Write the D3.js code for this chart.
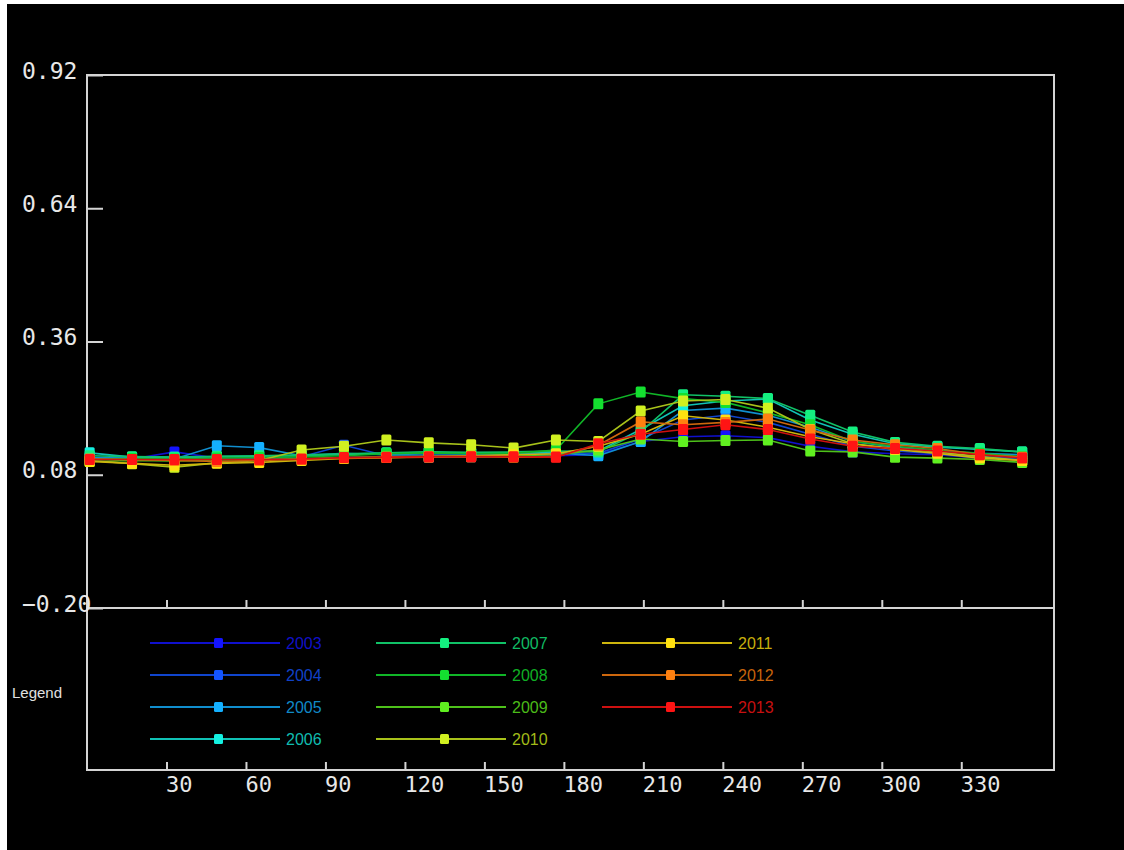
<!DOCTYPE html>
<html>
<head>
<meta charset="utf-8">
<script src="https://cdn.jsdelivr.net/npm/d3@7"></script>
<style>
  body { margin: 0; background: #fff; }
  svg { display: block; }
</style>
</head>
<body>
<div id="chart"></div>
<script>
// day of year of each 16-day composite
var days = [1, 17, 33, 49, 65, 81, 97, 113, 129, 145, 161, 177, 193, 209, 225, 241, 257, 273, 289, 305, 321, 337, 353]
var years = ["2003", "2004", "2005", "2006", "2007", "2008", "2009", "2010", "2011", "2012", "2013"]
var colors = ["#1414ff", "#1455ff", "#14b0ff", "#14f0e0", "#14f080", "#14e030", "#60f020", "#d0f020", "#ffe010", "#ff8010", "#ff1414"]

var v2003 = [0.112, 0.113, 0.128, 0.115, 0.114, 0.112, 0.116, 0.118, 0.117, 0.118, 0.119, 0.120, 0.122, 0.150, 0.160, 0.162, 0.158, 0.140, 0.128, 0.124, 0.122, 0.115, 0.112]
var v2004 = [0.114, 0.116, 0.118, 0.117, 0.115, 0.118, 0.142, 0.120, 0.121, 0.122, 0.123, 0.125, 0.125, 0.155, 0.195, 0.205, 0.190, 0.165, 0.140, 0.130, 0.124, 0.118, 0.114]
var v2005 = [0.116, 0.115, 0.113, 0.141, 0.137, 0.120, 0.125, 0.122, 0.124, 0.125, 0.124, 0.126, 0.120, 0.150, 0.215, 0.220, 0.205, 0.180, 0.150, 0.138, 0.130, 0.125, 0.122]
var v2006 = [0.126, 0.117, 0.116, 0.118, 0.119, 0.120, 0.122, 0.125, 0.127, 0.125, 0.126, 0.128, 0.130, 0.175, 0.225, 0.235, 0.239, 0.195, 0.165, 0.145, 0.138, 0.133, 0.128]
var v2007 = [0.120, 0.118, 0.117, 0.119, 0.120, 0.122, 0.124, 0.126, 0.128, 0.127, 0.128, 0.130, 0.128, 0.170, 0.248, 0.245, 0.240, 0.205, 0.170, 0.148, 0.140, 0.135, 0.128]
var v2008 = [0.112, 0.114, 0.113, 0.115, 0.116, 0.118, 0.120, 0.124, 0.126, 0.124, 0.125, 0.132, 0.229, 0.254, 0.240, 0.232, 0.210, 0.185, 0.150, 0.140, 0.132, 0.125, 0.118]
var v2009 = [0.108, 0.110, 0.109, 0.111, 0.112, 0.114, 0.116, 0.118, 0.119, 0.118, 0.120, 0.122, 0.132, 0.155, 0.150, 0.152, 0.153, 0.130, 0.128, 0.117, 0.115, 0.112, 0.106]
var v2010 = [0.110, 0.103, 0.096, 0.105, 0.110, 0.132, 0.140, 0.153, 0.147, 0.143, 0.136, 0.153, 0.150, 0.214, 0.235, 0.238, 0.220, 0.175, 0.145, 0.135, 0.128, 0.118, 0.110]
var v2011 = [0.108, 0.104, 0.100, 0.104, 0.106, 0.110, 0.114, 0.116, 0.118, 0.120, 0.122, 0.124, 0.140, 0.165, 0.204, 0.195, 0.180, 0.160, 0.145, 0.133, 0.125, 0.115, 0.110]
var v2012 = [0.113, 0.112, 0.110, 0.108, 0.110, 0.112, 0.115, 0.116, 0.117, 0.118, 0.117, 0.118, 0.142, 0.191, 0.185, 0.190, 0.197, 0.174, 0.153, 0.143, 0.135, 0.122, 0.117]
var v2013 = [0.112, 0.112, 0.112, 0.112, 0.112, 0.113, 0.116, 0.117, 0.118, 0.118, 0.118, 0.117, 0.145, 0.165, 0.175, 0.185, 0.175, 0.155, 0.140, 0.135, 0.130, 0.122, 0.115]

var yTicks = [-0.20, 0.08, 0.36, 0.64, 0.92]
var xTicks = [30, 60, 90, 120, 150, 180, 210, 240, 270, 300, 330]

var allValues = [v2003, v2004, v2005, v2006, v2007, v2008, v2009, v2010, v2011, v2012, v2013]
var series = years.map(function(y, i) {
    return { name: y, color: colors[i], values: allValues[i].map(function(v, j) { return { day: days[j], value: v } }) }
})

var W = 1124, H = 850
var plotLeft = 87, plotRight = 1054, plotTop = 75, plotBottom = 608, frameBottom = 770
var axisColor = "#d4d4d4"

var x = d3.scaleLinear().domain([0, 365]).range([plotLeft, plotRight])
var y = d3.scaleLinear().domain([-0.20, 0.92]).range([plotBottom, plotTop])

var svg = d3.select("#chart").append("svg")
    .attr("width", W)
    .attr("height", H)

svg.append("rect").attr("x", 7).attr("y", 4).attr("width", W - 7).attr("height", H - 4).attr("fill", "#000")

/* frame */
var frame = svg.append("g").attr("stroke", axisColor).attr("stroke-width", 2).attr("fill", "none")
frame.append("rect").attr("x", plotLeft).attr("y", plotTop).attr("width", plotRight - plotLeft).attr("height", frameBottom - plotTop)
frame.append("line").attr("x1", plotLeft).attr("x2", plotRight).attr("y1", plotBottom).attr("y2", plotBottom)

/* axes */
var monoFont = "'DejaVu Sans Mono', monospace"

var yAxis = svg.append("g")
    .attr("transform", "translate(" + plotLeft + ",0)")
    .call(d3.axisLeft(y).tickValues(yTicks).tickFormat(d3.format(".2f")).tickSize(-16))
yAxis.select(".domain").remove()
yAxis.selectAll("line").attr("stroke", axisColor).attr("stroke-width", 2)
yAxis.selectAll("text")
    .attr("x", 22 - plotLeft)
    .attr("dy", 3)
    .attr("text-anchor", "start")
    .attr("fill", "#e8e8e8")
    .style("font-family", monoFont)
    .style("font-size", "23px")

var xTopTicks = svg.append("g")
    .attr("transform", "translate(0," + plotBottom + ")")
    .call(d3.axisBottom(x).tickValues(xTicks).tickSize(-8).tickFormat(""))
xTopTicks.select(".domain").remove()
xTopTicks.selectAll("line").attr("stroke", axisColor).attr("stroke-width", 2)

var xAxis = svg.append("g")
    .attr("transform", "translate(0," + frameBottom + ")")
    .call(d3.axisBottom(x).tickValues(xTicks).tickSize(-8).tickPadding(6))
xAxis.select(".domain").remove()
xAxis.selectAll("line").attr("stroke", axisColor).attr("stroke-width", 2)
xAxis.selectAll("text")
    .attr("text-anchor", "start")
    .attr("x", -1)
    .attr("fill", "#e8e8e8")
    .style("font-family", monoFont)
    .style("font-size", "22px")

/* lines and markers */
var line = d3.line().x(function(d) { return x(d.day) }).y(function(d) { return y(d.value) })

var groups = svg.append("g").selectAll(".series")
    .data(series).enter()
    .append("g")
    .attr("class", "series")

groups.append("path")
    .attr("d", function(d) { return line(d.values) })
    .attr("fill", "none")
    .attr("stroke", function(d) { return d3.color(d.color).darker(0.6) })
    .attr("stroke-width", 1.6)

groups.selectAll("rect")
    .data(function(d) { return d.values.map(function(p) { return { day: p.day, value: p.value, color: d.color } }) })
    .enter()
    .append("rect")
    .attr("x", function(d) { return x(d.day) - 5 })
    .attr("y", function(d) { return y(d.value) - 5.5 })
    .attr("width", 10)
    .attr("height", 11)
    .attr("rx", 1.5)
    .attr("fill", function(d) { return d.color })

/* legend */
svg.append("text")
    .attr("x", 12)
    .attr("y", 698)
    .attr("fill", "#e0e0e0")
    .style("font-family", "'Liberation Sans', Arial, sans-serif")
    .style("font-size", "15px")
    .text("Legend")

var legend = svg.append("g").selectAll(".legend-item")
    .data(series).enter()
    .append("g")
    .attr("class", "legend-item")
    .attr("transform", function(d, i) {
        return "translate(" + (150 + Math.floor(i / 4) * 226) + "," + (643 + (i % 4) * 32) + ")"
    })

legend.append("line")
    .attr("x1", 0).attr("x2", 130)
    .attr("stroke", function(d) { return d3.color(d.color).darker(0.6) })
    .attr("stroke-width", 2)

legend.append("rect")
    .attr("x", 64).attr("y", -5)
    .attr("width", 9).attr("height", 10)
    .attr("rx", 1.5)
    .attr("fill", function(d) { return d.color })

legend.append("text")
    .attr("x", 136)
    .attr("y", 6)
    .attr("fill", function(d) { return d3.color(d.color).darker(0.7) })
    .style("font-family", "'Liberation Sans', Arial, sans-serif")
    .style("font-size", "16px")
    .text(function(d) { return d.name })
</script>
</body>
</html>
